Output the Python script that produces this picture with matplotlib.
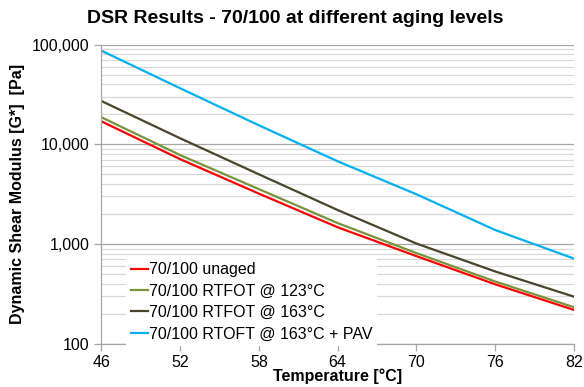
import numpy as np
import matplotlib
matplotlib.use('Agg')
import matplotlib.pyplot as plt
from matplotlib.ticker import FixedLocator, LogLocator, NullFormatter

plt.rcParams['font.family'] = ['Liberation Sans', 'DejaVu Sans']

# Temperature sweep, °C
temps = [46, 52, 58, 64, 70, 76, 82]

# |G*| in Pa
unaged      = [17000, 7100, 3200, 1470, 755, 394, 218]
rtfot_123   = [18700, 7800, 3550, 1620, 810, 420, 232]
rtfot_163   = [27200, 11500, 5000, 2190, 1010, 530, 296]
rtfot_pav   = [87000, 36500, 15500, 6750, 3150, 1380, 713]

labels = ['70/100 unaged', '70/100 RTFOT @ 123°C',
          '70/100 RTFOT @ 163°C', '70/100 RTOFT @ 163°C + PAV']
colors = ['#FF0000', '#77933C', '#4A452A', '#00B0F0']

fig = plt.figure(figsize=(5.84, 3.87), dpi=100)
ax = fig.add_axes([0.1734, 0.1119, 0.8096, 0.7729])

for ys, lab, c in zip([unaged, rtfot_123, rtfot_163, rtfot_pav], labels, colors):
    ax.plot(temps, ys, color=c, lw=1.6, label=lab)

ax.set_yscale('log')
ax.set_ylim(100, 100000)
ax.set_xlim(46, 82)
ax.xaxis.set_major_locator(FixedLocator(temps))
ax.yaxis.set_major_locator(FixedLocator([100, 1000, 10000, 100000]))
ax.yaxis.set_minor_locator(LogLocator(base=10, subs=np.arange(2, 10)))
ax.yaxis.set_minor_formatter(NullFormatter())
ax.set_yticklabels(['100', '1,000', '10,000', '100,000'])

ax.grid(axis='y', which='major', color='#A6A6A6', lw=0.9)
ax.grid(axis='y', which='minor', color='#D9D9D9', lw=0.9)
ax.set_axisbelow(True)

for s in ['top', 'right']:
    ax.spines[s].set_visible(False)
for s in ['left', 'bottom']:
    ax.spines[s].set_color('#A6A6A6')
    ax.spines[s].set_linewidth(0.9)

ax.tick_params(axis='both', which='major', labelsize=11.5, colors='#A6A6A6',
               labelcolor='black', length=5, width=0.9, direction='out')
ax.tick_params(axis='y', which='minor', length=0)
ax.tick_params(axis='x', pad=3)

ax.set_xlabel('Temperature [°C]', fontsize=11.5, fontweight='bold', labelpad=-1)
ax.set_ylabel('Dynamic Shear Modulus [G*]  [Pa]', fontsize=11.5,
              fontweight='bold', labelpad=5)
fig.text(0.505, 0.953, 'DSR Results - 70/100 at different aging levels',
         ha='center', va='center', fontsize=14, fontweight='bold')

leg = ax.legend(loc='lower left', bbox_to_anchor=(0.035, -0.035), fontsize=11.5,
                handlelength=1.1, handletextpad=0.05, labelspacing=0.4,
                borderpad=0.3, frameon=True, fancybox=False)
leg.get_frame().set_facecolor('white')
leg.get_frame().set_edgecolor('none')
leg.get_frame().set_alpha(1.0)

fig.savefig('out.png', dpi=100)
